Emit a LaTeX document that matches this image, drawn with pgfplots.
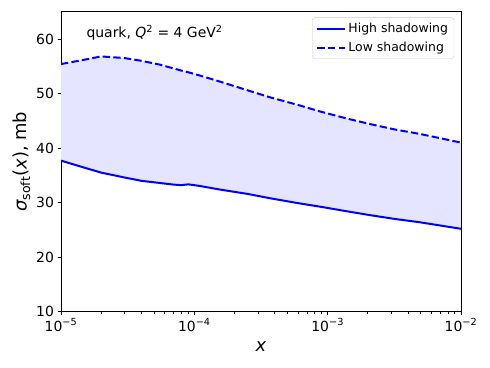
\documentclass[border=0pt]{standalone}
\usepackage{fontspec}
\setmainfont{DejaVu Sans}
\usepackage{pgfplots}
\pgfplotsset{compat=1.18}
\usepgfplotslibrary{fillbetween}
\usepackage{pgfplotstable}

\definecolor{mplblue}{RGB}{0,0,255}
\definecolor{bandfill}{RGB}{229,229,255}

% x, high shadowing, low shadowing
\pgfplotstableread{
x        high   low
0.00001     37.7   55.4
0.000015    36.4   56.2
0.00002     35.5   56.8
0.00003     34.6   56.5
0.00004     34.0   56.0
0.000055    33.6   55.3
0.00007     33.3   54.6
0.00008     33.2   54.2
0.00009     33.35  53.9
0.00011     33.05  53.3
0.000155    32.4   52.2
0.00025     31.6   50.6
0.00037     30.8   49.3
0.0006      29.9   47.9
0.00088     29.25  46.7
0.0014      28.4   45.4
0.00208     27.7   44.4
0.0032      27.0   43.4
0.0049      26.4   42.6
0.007       25.8   41.8
0.01        25.2   41.0
}\sigdata

\begin{document}
\begin{tikzpicture}
\begin{axis}[
    scale only axis,
    width=400bp, height=300bp,
    xmode=log,
    xmin=0.00001, xmax=0.01,
    ymin=10, ymax=65,
    ytick={10,20,...,60},
    xtick={0.00001,0.0001,0.001,0.01},
    xticklabels={10\textsuperscript{−5},10\textsuperscript{−4},10\textsuperscript{−3},10\textsuperscript{−2}},
    /pgf/number format/assume math mode=true,
    tick label style={font=\fontsize{14}{16}\selectfont},
    tick align=outside,
    major tick length=3.5bp,
    minor tick length=2bp,
    tick style={black, line width=0.8bp},
    axis line style={line width=0.8bp},
    xtick pos=bottom, ytick pos=left,
    xlabel={\itshape x},
    ylabel={{\itshape σ}\textsubscript{soft}({\itshape x}), mb},
    label style={font=\fontsize{18}{20}\selectfont},
    xlabel style={yshift=-3bp},
    ylabel style={yshift=-1bp},
    legend style={
        at={(0.983,0.981)}, anchor=north east,
        font=\fontsize{12.5}{14}\selectfont,
        draw=black!20, rounded corners=2.5bp,
        fill=white, fill opacity=0.8, text opacity=1,
        row sep=4bp, inner xsep=4bp, inner ysep=3.5bp,
        /tikz/every even column/.append style={column sep=2bp},
    },
    legend cell align=left,
    legend image code/.code={\draw[#1] (0bp,0bp) -- (28bp,0bp);},
]
\addplot[name path=hi, mplblue, line width=2bp] table[x=x, y=high] {\sigdata};
\addlegendentry{High shadowing}
\addplot[name path=lo, mplblue, line width=2bp, dash pattern=on 7.4bp off 3.2bp] table[x=x, y=low] {\sigdata};
\addlegendentry{Low shadowing}
\addplot[bandfill, draw=none, forget plot] fill between[of=hi and lo];
\node[anchor=west, font=\fontsize{14}{16}\selectfont] at (rel axis cs:0.055,0.929)
    {quark, {\itshape Q}\textsuperscript{2} = 4 GeV\textsuperscript{2}};
\end{axis}
\path[use as bounding box] (-61bp,-56.3bp) rectangle (429bp,311.7bp);
\end{tikzpicture}
\end{document}
